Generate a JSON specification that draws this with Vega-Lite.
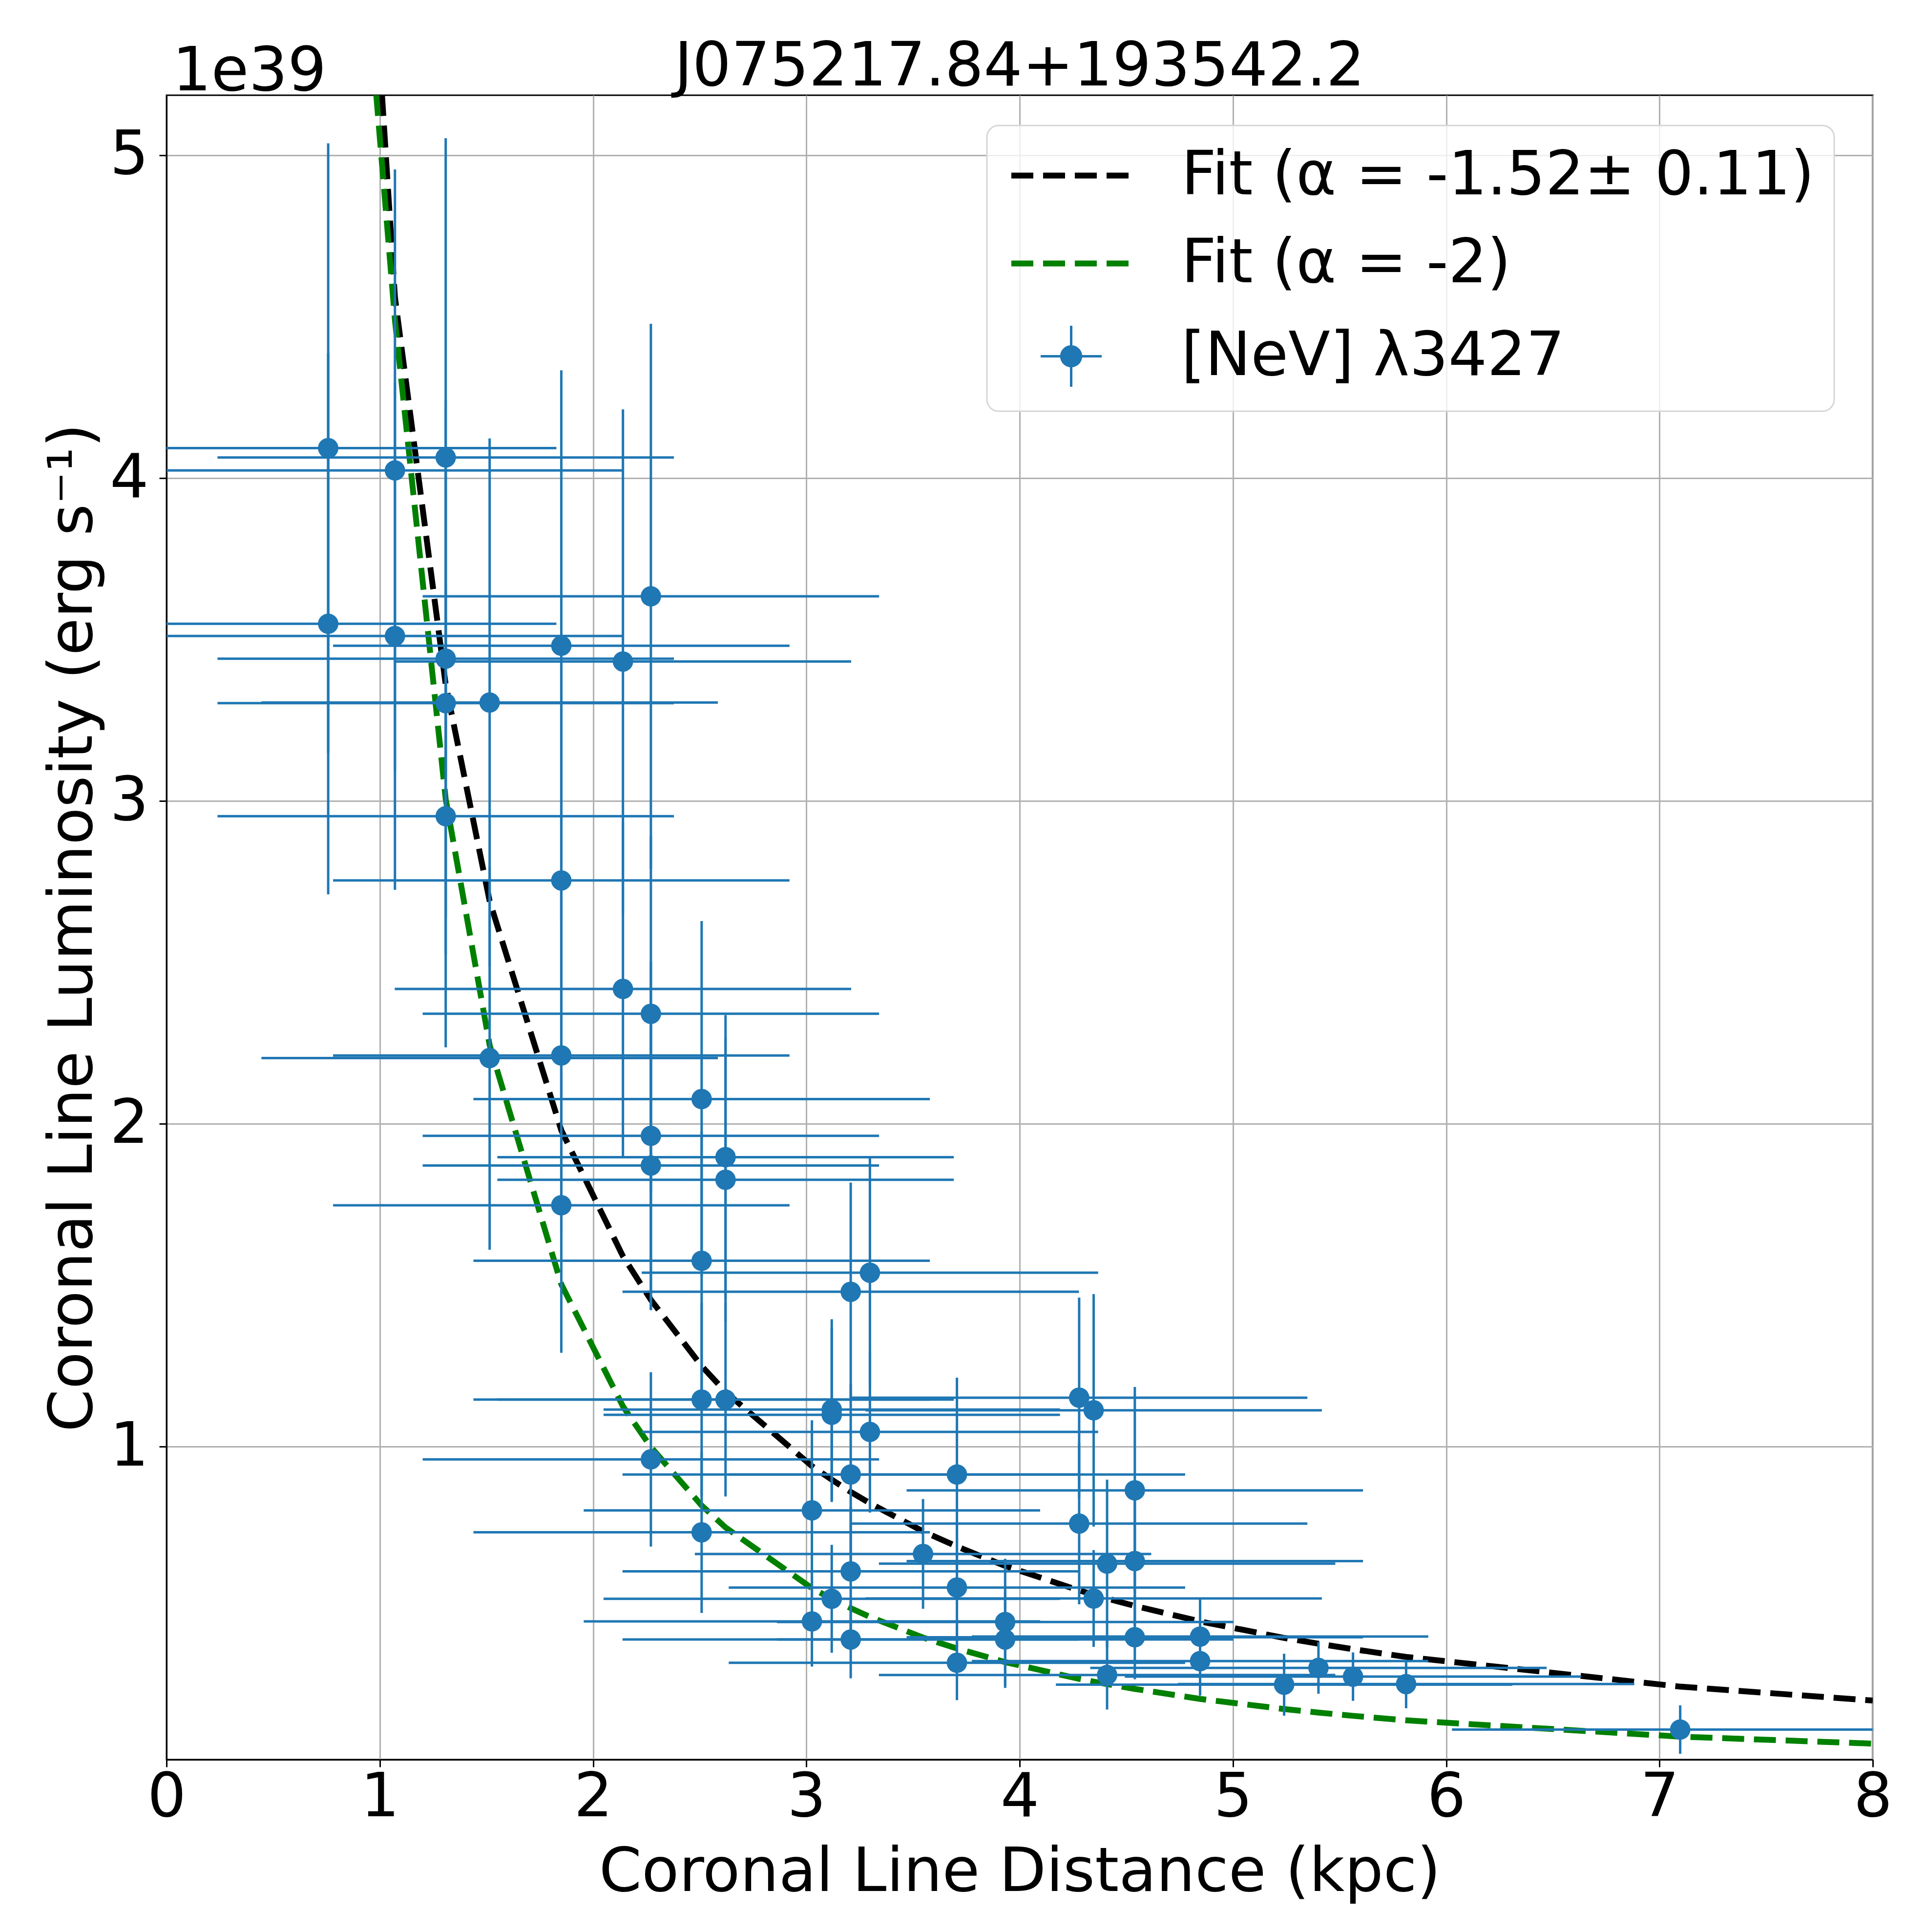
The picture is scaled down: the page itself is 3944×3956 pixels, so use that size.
{
  "$schema": "https://vega.github.io/schema/vega-lite/v6.json",
  "width": 3494,
  "height": 3408,
  "autosize": {"type": "none"},
  "padding": {"left": 341, "top": 195, "right": 109, "bottom": 353},
  "background": "white",
  "title": {
    "text": "J075217.84+193542.2",
    "font": "DejaVu Sans",
    "fontSize": 125,
    "fontWeight": "normal",
    "color": "black",
    "baseline": "alphabetic",
    "anchor": "middle",
    "frame": "group",
    "offset": -215
  },
  "config": {
    "font": "DejaVu Sans",
    "view": {"stroke": "black", "strokeWidth": 3},
    "axis": {
      "labelFont": "DejaVu Sans",
      "labelFontSize": 125,
      "labelColor": "black",
      "labelLimit": 1000,
      "titleFont": "DejaVu Sans",
      "titleFontSize": 125,
      "titleFontWeight": "normal",
      "titleColor": "black",
      "titleLimit": 5000,
      "tickColor": "black",
      "tickSize": 15,
      "tickWidth": 3,
      "domainColor": "black",
      "domainWidth": 3,
      "gridColor": "#b0b0b0",
      "gridWidth": 3,
      "labelFlush": false,
      "labelOverlap": false
    }
  },
  "datasets": {
    "pts": [
      {"d": 0.758, "L": 4.093, "dlo": -0.312, "dhi": 1.828, "Llo": 3.149, "Lhi": 5.037},
      {"d": 0.758, "L": 3.549, "dlo": -0.312, "dhi": 1.828, "Llo": 2.711, "Lhi": 4.387},
      {"d": 1.071, "L": 4.024, "dlo": 0.001, "dhi": 2.141, "Llo": 3.092, "Lhi": 4.956},
      {"d": 1.071, "L": 3.511, "dlo": 0.001, "dhi": 2.141, "Llo": 2.725, "Lhi": 4.297},
      {"d": 1.309, "L": 4.064, "dlo": 0.239, "dhi": 2.379, "Llo": 3.075, "Lhi": 5.053},
      {"d": 1.309, "L": 3.441, "dlo": 0.239, "dhi": 2.379, "Llo": 2.641, "Lhi": 4.241},
      {"d": 1.309, "L": 3.303, "dlo": 0.239, "dhi": 2.379, "Llo": 2.523, "Lhi": 4.083},
      {"d": 1.309, "L": 2.953, "dlo": 0.239, "dhi": 2.379, "Llo": 2.237, "Lhi": 3.669},
      {"d": 1.515, "L": 3.305, "dlo": 0.445, "dhi": 2.585, "Llo": 2.487, "Lhi": 4.123},
      {"d": 1.515, "L": 2.204, "dlo": 0.445, "dhi": 2.585, "Llo": 1.61, "Lhi": 2.798},
      {"d": 1.851, "L": 3.481, "dlo": 0.781, "dhi": 2.921, "Llo": 2.628, "Lhi": 4.334},
      {"d": 1.851, "L": 2.754, "dlo": 0.781, "dhi": 2.921, "Llo": 2.074, "Lhi": 3.434},
      {"d": 1.851, "L": 2.212, "dlo": 0.781, "dhi": 2.921, "Llo": 1.662, "Lhi": 2.762},
      {"d": 1.851, "L": 1.748, "dlo": 0.781, "dhi": 2.921, "Llo": 1.291, "Lhi": 2.205},
      {"d": 2.14, "L": 3.432, "dlo": 1.07, "dhi": 3.21, "Llo": 2.651, "Lhi": 4.213},
      {"d": 2.14, "L": 2.418, "dlo": 1.07, "dhi": 3.21, "Llo": 1.899, "Lhi": 2.937},
      {"d": 2.271, "L": 3.634, "dlo": 1.201, "dhi": 3.341, "Llo": 2.79, "Lhi": 4.478},
      {"d": 2.271, "L": 2.341, "dlo": 1.201, "dhi": 3.341, "Llo": 1.791, "Lhi": 2.891},
      {"d": 2.271, "L": 1.963, "dlo": 1.201, "dhi": 3.341, "Llo": 1.423, "Lhi": 2.503},
      {"d": 2.271, "L": 1.871, "dlo": 1.201, "dhi": 3.341, "Llo": 1.424, "Lhi": 2.318},
      {"d": 2.271, "L": 0.961, "dlo": 1.201, "dhi": 3.341, "Llo": 0.691, "Lhi": 1.231},
      {"d": 2.509, "L": 2.077, "dlo": 1.439, "dhi": 3.579, "Llo": 1.526, "Lhi": 2.628},
      {"d": 2.509, "L": 1.576, "dlo": 1.439, "dhi": 3.579, "Llo": 1.176, "Lhi": 1.976},
      {"d": 2.509, "L": 1.146, "dlo": 1.439, "dhi": 3.579, "Llo": 0.846, "Lhi": 1.446},
      {"d": 2.509, "L": 0.735, "dlo": 1.439, "dhi": 3.579, "Llo": 0.485, "Lhi": 0.985},
      {"d": 2.621, "L": 1.897, "dlo": 1.551, "dhi": 3.691, "Llo": 1.457, "Lhi": 2.337},
      {"d": 2.621, "L": 1.827, "dlo": 1.551, "dhi": 3.691, "Llo": 1.387, "Lhi": 2.267},
      {"d": 2.621, "L": 1.146, "dlo": 1.551, "dhi": 3.691, "Llo": 0.846, "Lhi": 1.446},
      {"d": 3.026, "L": 0.803, "dlo": 1.956, "dhi": 4.096, "Llo": 0.524, "Lhi": 1.082},
      {"d": 3.026, "L": 0.459, "dlo": 1.956, "dhi": 4.096, "Llo": 0.319, "Lhi": 0.599},
      {"d": 3.119, "L": 1.115, "dlo": 2.049, "dhi": 4.189, "Llo": 0.835, "Lhi": 1.395},
      {"d": 3.119, "L": 1.099, "dlo": 2.049, "dhi": 4.189, "Llo": 0.829, "Lhi": 1.369},
      {"d": 3.119, "L": 0.529, "dlo": 2.049, "dhi": 4.189, "Llo": 0.362, "Lhi": 0.696},
      {"d": 3.208, "L": 1.48, "dlo": 2.138, "dhi": 4.278, "Llo": 1.142, "Lhi": 1.818},
      {"d": 3.208, "L": 0.914, "dlo": 2.138, "dhi": 4.278, "Llo": 0.634, "Lhi": 1.194},
      {"d": 3.208, "L": 0.614, "dlo": 2.138, "dhi": 4.278, "Llo": 0.414, "Lhi": 0.814},
      {"d": 3.208, "L": 0.403, "dlo": 2.138, "dhi": 4.278, "Llo": 0.283, "Lhi": 0.523},
      {"d": 3.298, "L": 1.539, "dlo": 2.228, "dhi": 4.368, "Llo": 1.183, "Lhi": 1.895},
      {"d": 3.298, "L": 1.046, "dlo": 2.228, "dhi": 4.368, "Llo": 0.796, "Lhi": 1.296},
      {"d": 3.547, "L": 0.668, "dlo": 2.477, "dhi": 4.617, "Llo": 0.498, "Lhi": 0.838},
      {"d": 3.706, "L": 0.914, "dlo": 2.636, "dhi": 4.776, "Llo": 0.614, "Lhi": 1.214},
      {"d": 3.706, "L": 0.564, "dlo": 2.636, "dhi": 4.776, "Llo": 0.364, "Lhi": 0.764},
      {"d": 3.706, "L": 0.331, "dlo": 2.636, "dhi": 4.776, "Llo": 0.215, "Lhi": 0.447},
      {"d": 3.932, "L": 0.457, "dlo": 2.862, "dhi": 5.002, "Llo": 0.261, "Lhi": 0.653},
      {"d": 3.932, "L": 0.403, "dlo": 2.862, "dhi": 5.002, "Llo": 0.253, "Lhi": 0.553},
      {"d": 4.279, "L": 1.152, "dlo": 3.209, "dhi": 5.349, "Llo": 0.842, "Lhi": 1.462},
      {"d": 4.279, "L": 0.762, "dlo": 3.209, "dhi": 5.349, "Llo": 0.512, "Lhi": 1.012},
      {"d": 4.347, "L": 1.113, "dlo": 3.277, "dhi": 5.417, "Llo": 0.753, "Lhi": 1.473},
      {"d": 4.347, "L": 0.53, "dlo": 3.277, "dhi": 5.417, "Llo": 0.38, "Lhi": 0.68},
      {"d": 4.41, "L": 0.638, "dlo": 3.34, "dhi": 5.48, "Llo": 0.378, "Lhi": 0.898},
      {"d": 4.41, "L": 0.293, "dlo": 3.34, "dhi": 5.48, "Llo": 0.186, "Lhi": 0.4},
      {"d": 4.54, "L": 0.865, "dlo": 3.47, "dhi": 5.61, "Llo": 0.545, "Lhi": 1.185},
      {"d": 4.54, "L": 0.646, "dlo": 3.47, "dhi": 5.61, "Llo": 0.446, "Lhi": 0.846},
      {"d": 4.54, "L": 0.41, "dlo": 3.47, "dhi": 5.61, "Llo": 0.28, "Lhi": 0.54},
      {"d": 4.846, "L": 0.412, "dlo": 3.776, "dhi": 5.916, "Llo": 0.292, "Lhi": 0.532},
      {"d": 4.846, "L": 0.336, "dlo": 3.776, "dhi": 5.916, "Llo": 0.229, "Lhi": 0.443},
      {"d": 5.24, "L": 0.263, "dlo": 4.17, "dhi": 6.31, "Llo": 0.167, "Lhi": 0.359},
      {"d": 5.401, "L": 0.315, "dlo": 4.331, "dhi": 6.471, "Llo": 0.235, "Lhi": 0.395},
      {"d": 5.563, "L": 0.288, "dlo": 4.493, "dhi": 6.633, "Llo": 0.213, "Lhi": 0.363},
      {"d": 5.812, "L": 0.265, "dlo": 4.742, "dhi": 6.882, "Llo": 0.19, "Lhi": 0.34},
      {"d": 7.097, "L": 0.124, "dlo": 6.027, "dhi": 8.167, "Llo": 0.049, "Lhi": 0.199}
    ],
    "black": [
      {"fit": "Fit (α = -1.52± 0.11)", "d": 1.01, "L": 5.19},
      {"fit": "Fit (α = -1.52± 0.11)", "d": 1.071, "L": 4.56},
      {"fit": "Fit (α = -1.52± 0.11)", "d": 1.309, "L": 3.36},
      {"fit": "Fit (α = -1.52± 0.11)", "d": 1.515, "L": 2.69},
      {"fit": "Fit (α = -1.52± 0.11)", "d": 1.851, "L": 1.98},
      {"fit": "Fit (α = -1.52± 0.11)", "d": 2.14, "L": 1.59},
      {"fit": "Fit (α = -1.52± 0.11)", "d": 2.271, "L": 1.455},
      {"fit": "Fit (α = -1.52± 0.11)", "d": 2.509, "L": 1.25},
      {"fit": "Fit (α = -1.52± 0.11)", "d": 2.621, "L": 1.17},
      {"fit": "Fit (α = -1.52± 0.11)", "d": 3.026, "L": 0.94},
      {"fit": "Fit (α = -1.52± 0.11)", "d": 3.119, "L": 0.898},
      {"fit": "Fit (α = -1.52± 0.11)", "d": 3.208, "L": 0.86},
      {"fit": "Fit (α = -1.52± 0.11)", "d": 3.298, "L": 0.825},
      {"fit": "Fit (α = -1.52± 0.11)", "d": 3.547, "L": 0.738},
      {"fit": "Fit (α = -1.52± 0.11)", "d": 3.706, "L": 0.691},
      {"fit": "Fit (α = -1.52± 0.11)", "d": 3.932, "L": 0.631},
      {"fit": "Fit (α = -1.52± 0.11)", "d": 4.279, "L": 0.555},
      {"fit": "Fit (α = -1.52± 0.11)", "d": 4.347, "L": 0.542},
      {"fit": "Fit (α = -1.52± 0.11)", "d": 4.41, "L": 0.53},
      {"fit": "Fit (α = -1.52± 0.11)", "d": 4.54, "L": 0.507},
      {"fit": "Fit (α = -1.52± 0.11)", "d": 4.846, "L": 0.459},
      {"fit": "Fit (α = -1.52± 0.11)", "d": 5.24, "L": 0.408},
      {"fit": "Fit (α = -1.52± 0.11)", "d": 5.401, "L": 0.39},
      {"fit": "Fit (α = -1.52± 0.11)", "d": 5.563, "L": 0.373},
      {"fit": "Fit (α = -1.52± 0.11)", "d": 5.812, "L": 0.349},
      {"fit": "Fit (α = -1.52± 0.11)", "d": 7.097, "L": 0.257},
      {"fit": "Fit (α = -1.52± 0.11)", "d": 8.0, "L": 0.214}
    ],
    "green": [
      {"fit": "Fit (α = -2)", "d": 0.983, "L": 5.19},
      {"fit": "Fit (α = -2)", "d": 1.071, "L": 4.49},
      {"fit": "Fit (α = -2)", "d": 1.309, "L": 3.006},
      {"fit": "Fit (α = -2)", "d": 1.515, "L": 2.244},
      {"fit": "Fit (α = -2)", "d": 1.851, "L": 1.503},
      {"fit": "Fit (α = -2)", "d": 2.14, "L": 1.125},
      {"fit": "Fit (α = -2)", "d": 2.271, "L": 0.999},
      {"fit": "Fit (α = -2)", "d": 2.509, "L": 0.818},
      {"fit": "Fit (α = -2)", "d": 2.621, "L": 0.75},
      {"fit": "Fit (α = -2)", "d": 3.026, "L": 0.562},
      {"fit": "Fit (α = -2)", "d": 3.119, "L": 0.529},
      {"fit": "Fit (α = -2)", "d": 3.208, "L": 0.5},
      {"fit": "Fit (α = -2)", "d": 3.298, "L": 0.473},
      {"fit": "Fit (α = -2)", "d": 3.547, "L": 0.409},
      {"fit": "Fit (α = -2)", "d": 3.706, "L": 0.375},
      {"fit": "Fit (α = -2)", "d": 3.932, "L": 0.333},
      {"fit": "Fit (α = -2)", "d": 4.279, "L": 0.281},
      {"fit": "Fit (α = -2)", "d": 4.347, "L": 0.2725},
      {"fit": "Fit (α = -2)", "d": 4.41, "L": 0.265},
      {"fit": "Fit (α = -2)", "d": 4.54, "L": 0.25},
      {"fit": "Fit (α = -2)", "d": 4.846, "L": 0.219},
      {"fit": "Fit (α = -2)", "d": 5.24, "L": 0.1876},
      {"fit": "Fit (α = -2)", "d": 5.401, "L": 0.1766},
      {"fit": "Fit (α = -2)", "d": 5.563, "L": 0.1666},
      {"fit": "Fit (α = -2)", "d": 5.812, "L": 0.1526},
      {"fit": "Fit (α = -2)", "d": 7.097, "L": 0.1022},
      {"fit": "Fit (α = -2)", "d": 8.0, "L": 0.0805}
    ]
  },
  "layer": [
    {
      "data": {"name": "black"},
      "mark": {"type": "line", "strokeWidth": 12, "strokeDash": [45, 20], "strokeCap": "butt", "clip": true},
      "encoding": {
        "x": {
          "field": "d",
          "type": "quantitative",
          "title": "Coronal Line Distance (kpc)",
          "scale": {"domain": [0, 8], "nice": false, "zero": false},
          "axis": {
            "values": [0, 1, 2, 3, 4, 5, 6, 7, 8],
            "format": "d",
            "labelPadding": 1,
            "titlePadding": 29
          }
        },
        "y": {
          "field": "L",
          "type": "quantitative",
          "title": "Coronal Line Luminosity (erg s⁻¹)",
          "scale": {"domain": [0.031, 5.186], "nice": false, "zero": false},
          "axis": {
            "values": [1, 2, 3, 4, 5],
            "format": "d",
            "labelPadding": 22,
            "titlePadding": 11
          }
        },
        "color": {
          "field": "fit",
          "type": "nominal",
          "scale": {
            "domain": ["Fit (α = -1.52± 0.11)", "Fit (α = -2)", "[NeV] λ3427"],
            "range": ["#000000", "#008000", "#1f77b4"]
          },
          "legend": {
            "orient": "none",
            "legendX": 1680,
            "legendY": 62,
            "title": null,
            "labelFont": "DejaVu Sans",
            "labelFontSize": 125,
            "labelColor": "black",
            "labelLimit": 3000,
            "symbolSize": 33489,
            "symbolOffset": 70,
            "labelOffset": 163,
            "padding": 40,
            "rowPadding": 54,
            "encode": {
              "legend": {
                "update": {
                  "stroke": {"value": "#d6d6d6"},
                  "strokeWidth": {"value": 3},
                  "cornerRadius": {"value": 24},
                  "fill": {"value": "white"},
                  "fillOpacity": {"value": 0.8}
                }
              },
              "symbols": {
                "update": {
                  "shape": {"signal": "datum.value === '[NeV] λ3427' ? 'M-0.683,0H0.683M0,-0.683V0.683M0.22,0A0.22,0.22,0,1,1,-0.22,0A0.22,0.22,0,1,1,0.22,0Z' : 'M-1.339,0H1.339'"},
                  "stroke": {"signal": "datum.value === '[NeV] λ3427' ? '#1f77b4' : (datum.value === 'Fit (α = -2)' ? '#008000' : '#000000')"},
                  "fill": {"signal": "datum.value === '[NeV] λ3427' ? '#1f77b4' : 'transparent'"},
                  "strokeWidth": {"signal": "datum.value === '[NeV] λ3427' ? 5 : 12"},
                  "strokeDash": {"signal": "datum.value === '[NeV] λ3427' ? [] : [45, 20]"},
                  "opacity": {"value": 1},
                  "fillOpacity": {"value": 1},
                  "strokeOpacity": {"value": 1}
                }
              }
            }
          }
        }
      }
    },
    {
      "data": {"name": "green"},
      "mark": {"type": "line", "strokeWidth": 12, "strokeDash": [45, 20], "strokeCap": "butt", "clip": true},
      "encoding": {
        "x": {"field": "d", "type": "quantitative", "title": "Coronal Line Distance (kpc)"},
        "y": {"field": "L", "type": "quantitative", "title": "Coronal Line Luminosity (erg s⁻¹)"},
        "color": {"field": "fit", "type": "nominal"}
      }
    },
    {
      "data": {"name": "pts"},
      "mark": {"type": "rule", "strokeWidth": 5, "color": "#1f77b4", "clip": true},
      "encoding": {
        "x": {"field": "dlo", "type": "quantitative", "title": "Coronal Line Distance (kpc)"},
        "x2": {"field": "dhi"},
        "y": {"field": "L", "type": "quantitative", "title": "Coronal Line Luminosity (erg s⁻¹)"}
      }
    },
    {
      "data": {"name": "pts"},
      "mark": {"type": "rule", "strokeWidth": 5, "color": "#1f77b4", "clip": true},
      "encoding": {
        "x": {"field": "d", "type": "quantitative", "title": "Coronal Line Distance (kpc)"},
        "y": {"field": "Llo", "type": "quantitative", "title": "Coronal Line Luminosity (erg s⁻¹)"},
        "y2": {"field": "Lhi"}
      }
    },
    {
      "data": {"name": "pts"},
      "mark": {"type": "circle", "size": 1750, "color": "#1f77b4", "opacity": 1},
      "encoding": {
        "x": {"field": "d", "type": "quantitative", "title": "Coronal Line Distance (kpc)"},
        "y": {"field": "L", "type": "quantitative", "title": "Coronal Line Luminosity (erg s⁻¹)"}
      }
    },
    {
      "data": {"values": [{}]},
      "mark": {
        "type": "text",
        "text": "1e39",
        "font": "DejaVu Sans",
        "fontSize": 125,
        "color": "black",
        "align": "left",
        "baseline": "alphabetic",
        "dx": 12,
        "dy": -10
      },
      "encoding": {
        "x": {"datum": 0, "type": "quantitative", "title": "Coronal Line Distance (kpc)"},
        "y": {"datum": 5.186, "type": "quantitative", "title": "Coronal Line Luminosity (erg s⁻¹)"}
      }
    }
  ]
}
